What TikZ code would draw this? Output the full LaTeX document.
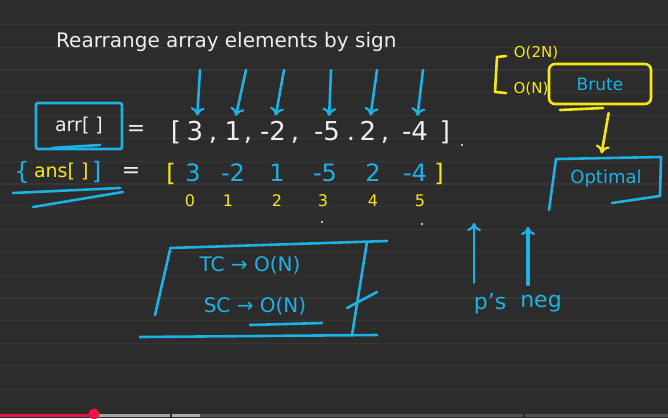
\documentclass[tikz,border=0pt]{standalone}
\usepackage{fontspec}
\setmainfont{DejaVu Sans}
\usepackage{tikz}
\usetikzlibrary{positioning,arrows.meta}
\definecolor{board}{RGB}{44,44,44}
\definecolor{ruling}{RGB}{55,55,55}
\definecolor{penblue}{RGB}{28,178,228}
\definecolor{penyellow}{RGB}{246,232,20}
\definecolor{chalk}{RGB}{238,238,238}
\definecolor{seekred}{RGB}{240,20,70}

\begin{document}
\begin{tikzpicture}[x=1pt,y=-1pt,
  blueline/.style={penblue, line width=2.6pt, line cap=round, line join=round},
  yellowline/.style={penyellow, line width=2.6pt, line cap=round, line join=round},
  pentip/.style={-{To[length=8pt,width=14pt,line width=2.2pt]}},
  chalktext/.style={inner sep=1pt, text=chalk, font=\fontsize{26}{28}\selectfont},
  bluetext/.style={inner sep=1pt, text=penblue, font=\fontsize{24}{26}\selectfont},
  yellowtext/.style={inner sep=1pt, text=penyellow, font=\fontsize{24}{26}\selectfont}]
% Board and ruling
\useasboundingbox (0,0) rectangle (668,418);
\fill[board] (0,0) rectangle (668,418);
\foreach \k in {1,...,17}
  \draw[ruling, line width=1.2pt] (0,{1.5+22.8*\k}) -- (668,{1.5+22.8*\k});

% Title
\node[chalktext, font=\fontsize{20}{22}\selectfont, anchor=base west] (title) at (55,47) {Rearrange array elements by sign};

% Input array
\node[chalktext, font=\fontsize{19}{21}\selectfont, draw=penblue, line width=2.6pt,
  rounded corners=2pt, minimum width=86pt, minimum height=46pt] (arr) at (79,126) {arr[ ]};
\draw[blueline] (52,148) -- (100,145);
\node[chalktext, font=\fontsize{22}{24}\selectfont] (eq1) at (136,130) {=};
\node[chalktext, anchor=base] (lb) at (176,140) {[};
\foreach \x/\v/\n in {195/3/a0, 233/1/a1, 273/-2/a2, 327/-5/a3, 368/2/a4, 415/-4/a5}
  \node[chalktext, anchor=base] (\n) at (\x,140) {\v};
\foreach \x/\c/\n in {213/{,}/c1, 248/{,}/c2, 295/{,}/c3, 351/{.}/c4, 385/{,}/c5}
  \node[chalktext, anchor=base] (\n) at (\x,140) {\c};
\node[chalktext, anchor=base] (rb) at (445,140) {]};

% Pointers
\foreach \x/\n in {200/a0, 246/a1, 284/a2, 331/a3, 377/a4, 423/a5} {
  \coordinate (t\n) at (\x,70);
  \draw[blueline, pentip, shorten >=4pt] (t\n) -- ([xshift=2pt]\n.north);
}

% Answer array
\node[bluetext, font=\fontsize{24}{26}\selectfont] (lbrace) at (22,172) {\{};
\node[yellowtext, font=\fontsize{19}{21}\selectfont, right=2pt of lbrace] (ans) {ans[ ]};
\node[bluetext, font=\fontsize{24}{26}\selectfont, right=1pt of ans] (rbrace) {]};
\node[chalktext, font=\fontsize{22}{24}\selectfont] (eq2) at (131,172) {=};
\draw[blueline] (13,193) -- (120,188);
\draw[blueline] (33,207) -- (123,192);
\node[yellowtext, anchor=base] (lb2) at (171,181) {[};
\foreach \x/\v/\n in {193/3/b0, 233/-2/b1, 277/1/b2, 325/-5/b3, 373/2/b4, 415/-4/b5}
  \node[bluetext, anchor=base] (\n) at (\x,181) {\v};
\node[yellowtext, anchor=base] (rb2) at (439,181) {]};
\foreach \x/\i in {190/0, 228/1, 277/2, 323/3, 373/4, 420/5}
  \node[yellowtext, font=\fontsize{16}{18}\selectfont, anchor=base] (i\i) at (\x,206) {\i};

% Complexity
\node[bluetext, font=\fontsize{20}{22}\selectfont] (tc) at (250,265) {TC → O(N)};
\node[bluetext, font=\fontsize{20}{22}\selectfont] (sc) at (255,306) {SC → O(N)};
\draw[blueline] (170,248) -- (387,241);
\draw[blueline] (170,250) -- (155,315);
\draw[blueline] (140,337) -- (377,335);
\draw[blueline] (367,242) -- (352,335);
\draw[blueline] (347,308) -- (377,292);
\draw[blueline] (250,325) -- (322,323);

% Brute and optimal
\draw[yellowline] (506,56) -- (497,57) -- (495,92) -- (506,93);
\node[yellowtext, font=\fontsize{15}{17}\selectfont] (o2n) at (536,53) {O(2N)};
\node[yellowtext, font=\fontsize{15}{17}\selectfont] (on) at (531,89) {O(N)};
\node[bluetext, font=\fontsize{17}{19}\selectfont, draw=penyellow, line width=2.6pt,
  rounded corners=6pt, minimum width=102pt, minimum height=40pt] (brute) at (600,84) {Brute};
\draw[yellowline] (560,110) -- (603,108);
\node[bluetext, font=\fontsize{18}{20}\selectfont, minimum width=108pt, minimum height=45pt] (opt) at (606,179) {Optimal};
\draw[blueline] (549,210) -- (556,159) -- (661,157) -- (660,196) -- (612,203);
\draw[yellowline, pentip, shorten <=8pt, shorten >=3pt] ([xshift=10pt]brute.south) -- ([xshift=-5pt]opt.north);

% Positive / negative
\node[bluetext, font=\fontsize{22}{24}\selectfont] (ps) at (490,304) {p's};
\node[bluetext, font=\fontsize{22}{24}\selectfont] (neg) at (541,304) {neg};
\coordinate (pstop) at (474,223);
\coordinate (negtop) at (528,227);
\draw[blueline, pentip] ([yshift=10pt]ps.north -| pstop) -- (pstop);
\draw[blueline, line width=3.4pt, pentip] ([yshift=10pt]neg.north -| negtop) -- (negtop);

% Stray marks
\foreach \p in {(462,145), (322,222), (422,224)}
  \fill[chalk!70] \p circle (1.2pt);

% Progress bar
\fill[seekred] (0,413.5) rectangle (94,416.5);
\fill[gray!70] (94,413.5) rectangle (170,416.5);
\fill[gray!65] (172,413.5) rectangle (200,416.5);
\fill[gray!45!board] (200,413.5) rectangle (523,416.5);
\fill[gray!45!board] (525,413.5) rectangle (668,416.5);
\fill[seekred] (94,414) circle (5.5pt);
\end{tikzpicture}
\end{document}
